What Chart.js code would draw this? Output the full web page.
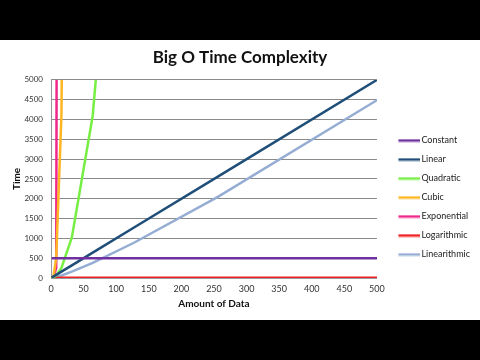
<!DOCTYPE html>
<html><head><meta charset="utf-8">
<script src="https://cdn.jsdelivr.net/npm/chart.js@4/dist/chart.umd.min.js"></script>
<style>
html,body{margin:0;padding:0;background:#000;width:480px;height:360px;overflow:hidden}
#wrap{position:absolute;left:0;top:40px;width:480px;height:280px;background:#fff}
</style></head><body>
<div id="wrap"><canvas id="c" width="480" height="280"></canvas></div>
<script>
// Amount of data (x values)
const xValues      = [1, 2, 4, 8, 16, 32, 64, 128, 256, 512];
// Series values (time)
const constant     = [500, 500, 500, 500, 500, 500, 500, 500, 500, 500];
const linear       = [10, 20, 40, 80, 160, 320, 640, 1280, 2560, 5120];
const quadratic    = [1, 4, 16, 64, 256, 1024, 4096, 16384, 65536, 262144];
const cubic        = [1, 8, 64, 512, 4096, 32768, 262144, null, null, null];
const exponential  = [2, 4, 16, 256, 65536, null, null, null, null, null];
const logarithmic  = [0, 1, 2, 3, 4, 5, 6, 7, 8, 9];
const linearithmic = [0, 2, 8, 24, 64, 160, 384, 896, 2048, 4608];
const seriesNames  = ['Constant', 'Linear', 'Quadratic', 'Cubic', 'Exponential', 'Logarithmic', 'Linearithmic'];
const seriesColors = ['#7030A0', '#1F4E79', '#77EE44', '#FFB622', '#F0288C', '#EE2222', '#95ADD3'];
const yTicks       = [0, 500, 1000, 1500, 2000, 2500, 3000, 3500, 4000, 4500, 5000];
const xTicks       = [0, 50, 100, 150, 200, 250, 300, 350, 400, 450, 500];

const allSeries = [constant, linear, quadratic, cubic, exponential, logarithmic, linearithmic];
const FONT = 'Lato, "Open Sans", sans-serif';

// legend glyph: a short line at the right side of a small canvas
function legendGlyph(color) {
  const c = document.createElement('canvas');
  c.width = 37; c.height = 4;
  const g = c.getContext('2d');
  g.fillStyle = color;
  g.fillRect(15, 0.75, 22, 2.5);
  return c;
}

const datasets = allSeries.map((vals, i) => ({
  label: seriesNames[i],
  data: xValues.map((x, j) => ({ x: x, y: vals[j] })).filter(p => p.y !== null),
  borderColor: seriesColors[i],
  backgroundColor: seriesColors[i],
  borderWidth: 2.5,
  pointRadius: 0,
  pointStyle: legendGlyph(seriesColors[i]),
  showLine: true,
  tension: 0
}));

new Chart(document.getElementById('c'), {
  type: 'scatter',
  data: { datasets },
  options: {
    responsive: false,
    animation: false,
    layout: { padding: { left: 0, right: 0, top: 0, bottom: 0 } },
    plugins: {
      title: {
        display: true,
        text: 'Big O Time Complexity',
        color: '#111',
        font: { family: FONT, size: 17, weight: 'bold' },
        padding: { top: 7, bottom: 12.5 }
      },
      legend: {
        position: 'right',
        title: { display: true, text: ' ', font: { size: 1 }, padding: { top: 33.8, bottom: 0 } },
        labels: {
          usePointStyle: true,
          pointStyleWidth: 30,
          boxHeight: 9,
          padding: 10,
          color: '#222',
          font: { family: FONT, size: 9 }
        }
      },
      tooltip: { enabled: false }
    },
    scales: {
      x: {
        type: 'linear',
        min: 0, max: 500,
        afterBuildTicks: s => { s.ticks = xTicks.map(v => ({ value: v })); },
        afterFit: s => { s.height = 42; },
        ticks: { color: '#333', font: { family: FONT, size: 9 }, padding: 6, maxRotation: 0 },
        grid: { display: false, drawTicks: false },
        border: { display: true, color: '#999', width: 1 },
        title: { display: true, text: 'Amount of Data', color: '#111', font: { family: FONT, size: 10, weight: 'bold' }, padding: { top: 0, bottom: 10 } }
      },
      y: {
        min: 0, max: 5000,
        afterBuildTicks: s => { s.ticks = yTicks.map(v => ({ value: v })); },
        afterFit: s => { s.width = 51; },
        ticks: { color: '#333', font: { family: FONT, size: 8 }, padding: 8, callback: v => String(v) },
        grid: { color: '#8a8a8a', lineWidth: 1, drawTicks: false },
        border: { display: true, color: '#999', width: 1 },
        title: { display: true, text: 'Time', color: '#111', font: { family: FONT, size: 10, weight: 'bold' }, padding: { top: 11, bottom: 0 } }
      }
    }
  }
});
</script>
</body></html>
